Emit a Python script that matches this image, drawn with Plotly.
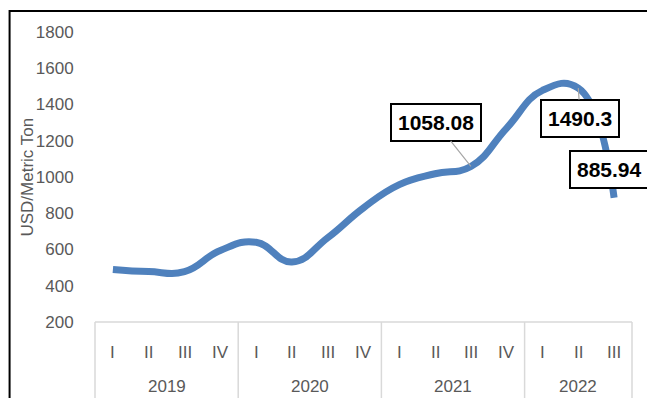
import plotly.graph_objects as go

# Quarterly price series, USD per metric ton
years = ["2019", "2020", "2021", "2022"]
quarters = [
    ["I", "II", "III", "IV"],
    ["I", "II", "III", "IV"],
    ["I", "II", "III", "IV"],
    ["I", "II", "III"],
]
prices = [490, 478, 478, 595,
          640, 531, 665, 830,
          958, 1018, 1058.08, 1270,
          1478, 1490.3, 885.94]

# Labelled points: (category index, ax, ay, visible leader)
callouts = [(10, -35, -44, True), (13, 2, 30, True), (14, -5, -28, False)]

y_ticks = [200, 400, 600, 800, 1000, 1200, 1400, 1600, 1800]

W, H = 647, 398
L, R, T, B = 94.5, 15, 32, 76
PW, PH = W - L - R, H - T - B

cats = []
for yr, qs in zip(years, quarters):
    for q in qs:
        cats.append(f"{yr} {q}")

BLUE = "#4F81BD"
GRAY_TXT = "#595959"
GRAY_LINE = "#D9D9D9"
FONT = "Liberation Sans"

fig = go.Figure()
fig.add_trace(go.Scatter(
    x=cats, y=prices, mode="lines",
    line=dict(color=BLUE, width=7, shape="spline", smoothing=1.3),
    hoverinfo="skip", showlegend=False,
))

def px_to_paper_x(px):
    return (px - L) / PW

def px_to_paper_y(py):
    return (H - B - py) / PH

shapes = []
annotations = []

# Outer chart border (top and left visible)
shapes.append(dict(type="rect", xref="paper", yref="paper",
                   x0=px_to_paper_x(9), x1=px_to_paper_x(700),
                   y0=px_to_paper_y(460), y1=px_to_paper_y(11),
                   line=dict(color="black", width=2), fillcolor="rgba(0,0,0,0)",
                   layer="below"))

# Category axis line
shapes.append(dict(type="line", xref="paper", yref="paper",
                   x0=0, x1=1, y0=0, y1=0,
                   line=dict(color=GRAY_LINE, width=1.5)))

# Group separators
n_total = len(cats)
bounds = [0]
for qs in quarters:
    bounds.append(bounds[-1] + len(qs))
for b in bounds:
    shapes.append(dict(type="line", xref="paper", yref="paper",
                       x0=b / n_total, x1=b / n_total,
                       y0=0, y1=px_to_paper_y(H + 5),
                       line=dict(color=GRAY_LINE, width=1.5)))

# Quarter and year labels
for gi, (yr, qs) in enumerate(zip(years, quarters)):
    for q in qs:
        annotations.append(dict(x=f"{yr} {q}", xref="x", y=px_to_paper_y(352), yref="paper",
                                text=q, showarrow=False,
                                font=dict(family=FONT, size=17, color=GRAY_TXT),
                                xanchor="center", yanchor="middle"))
    mid = (bounds[gi] + bounds[gi + 1]) / 2 / n_total
    annotations.append(dict(x=mid, xref="paper", y=px_to_paper_y(387), yref="paper",
                            text=yr, showarrow=False,
                            font=dict(family=FONT, size=17, color=GRAY_TXT),
                            xanchor="center", yanchor="middle"))

# Axis title
annotations.append(dict(x=px_to_paper_x(26), xref="paper", y=px_to_paper_y(177), yref="paper",
                        text="USD/Metric Ton", textangle=-90, showarrow=False,
                        font=dict(family=FONT, size=17, color=GRAY_TXT),
                        xanchor="center", yanchor="middle"))

# Value callouts
for idx, ax, ay, leader in callouts:
    val = prices[idx]
    txt = f"{val:g}"
    annotations.append(dict(
        x=cats[idx], y=val, xref="x", yref="y",
        text=f"<b>{txt}</b>", showarrow=True, arrowhead=0,
        arrowwidth=1.2,
        arrowcolor="#A6A6A6" if leader else "rgba(0,0,0,0)",
        ax=ax, ay=ay,
        font=dict(family=FONT, size=21, color="black"),
        bgcolor="white", bordercolor="black", borderwidth=2, borderpad=6,
    ))

fig.update_layout(
    width=W, height=H,
    margin=dict(l=L, r=R, t=T, b=B, pad=0),
    paper_bgcolor="white", plot_bgcolor="white",
    xaxis=dict(type="category", categoryorder="array", categoryarray=cats,
               range=[-0.5, n_total - 0.5], showticklabels=False, showgrid=False,
               zeroline=False, showline=False, ticks=""),
    yaxis=dict(range=[200, 1800], tickvals=y_ticks, showgrid=False, zeroline=False,
               showline=False, ticks="outside", ticklen=17, tickcolor="rgba(0,0,0,0)",
               tickfont=dict(family=FONT, size=17, color=GRAY_TXT)),
    shapes=shapes,
    annotations=annotations,
)

fig.write_html("out.html")
